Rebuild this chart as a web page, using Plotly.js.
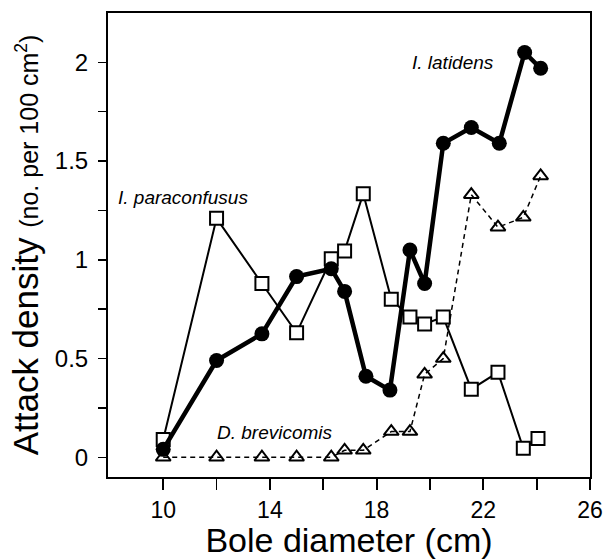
<!DOCTYPE html>
<html>
<head>
<meta charset="utf-8">
<script src="https://cdn.plot.ly/plotly-3.0.1.min.js"></script>
<style>html,body{margin:0;padding:0;background:#fff;}#chart{width:605px;height:559px;}</style>
</head>
<body>
<div id="chart"></div>
<script>
// I. latidens (filled circles)
var latidensX = [10, 12, 13.7, 15, 16.3, 16.8, 17.6, 18.5, 19.25, 19.8, 20.5, 21.55, 22.6, 23.55, 24.15];
var latidensY = [0.04, 0.49, 0.625, 0.915, 0.955, 0.84, 0.41, 0.34, 1.05, 0.88, 1.59, 1.67, 1.59, 2.05, 1.97];
// I. paraconfusus (open squares)
var paraX = [10, 12, 13.7, 15, 16.3, 16.8, 17.5, 18.55, 19.25, 19.8, 20.5, 21.55, 22.55, 23.5, 24.05];
var paraY = [0.09, 1.21, 0.88, 0.63, 1.005, 1.045, 1.335, 0.8, 0.71, 0.675, 0.71, 0.345, 0.43, 0.045, 0.095];
// D. brevicomis (open triangles)
var brevX = [10, 12, 13.7, 15, 16.3, 16.8, 17.5, 18.55, 19.25, 19.8, 20.5, 21.55, 22.55, 23.5, 24.15];
var brevY = [0, 0, 0, 0, 0, 0.035, 0.035, 0.13, 0.13, 0.42, 0.5, 1.33, 1.165, 1.215, 1.425];

var xTickVals = [10, 14, 18, 22, 26];
var yTickVals = [0, 0.5, 1, 1.5, 2];
var yTickText = ['0', '0.5', '1', '1.5', '2'];

var labels = [
  {text: 'I. paraconfusus', x: 10.74, y: 1.315},
  {text: 'I. latidens', x: 20.87, y: 2.0},
  {text: 'D. brevicomis', x: 14.2, y: 0.123}
];

var FONT = '"Liberation Sans", Arial, Helvetica, sans-serif';

var traces = [
  {x: brevX, y: brevY, type: 'scatter', mode: 'lines+markers',
   line: {color: '#000', width: 1.5, dash: '5px,4px'},
   marker: {symbol: 'triangle-up-open', size: 13, color: '#000', line: {width: 2, color: '#000'}}},
  {x: paraX, y: paraY, type: 'scatter', mode: 'lines+markers',
   line: {color: '#000', width: 2},
   marker: {symbol: 'square', size: 13, color: '#fff', line: {width: 2, color: '#000'}}},
  {x: latidensX, y: latidensY, type: 'scatter', mode: 'lines+markers',
   line: {color: '#000', width: 4.5},
   marker: {symbol: 'circle', size: 15, color: '#000'}}
];

var layout = {
  width: 605, height: 559,
  margin: {l: 108, r: 15, t: 13, b: 82},
  showlegend: false,
  paper_bgcolor: '#fff', plot_bgcolor: '#fff',
  font: {family: FONT, color: '#000'},
  xaxis: {
    range: [7.93, 26], tickvals: xTickVals, ticks: 'outside', ticklen: 11, tickwidth: 1.8,
    tickcolor: '#000', showline: true, linecolor: '#000', linewidth: 2, mirror: true,
    showgrid: false, zeroline: false, tickfont: {size: 23, family: FONT},
    minor: {tickvals: [12, 16, 20, 24], ticks: 'outside', ticklen: 11, tickwidth: 1.8, tickcolor: '#000'},
    title: {text: 'Bole diameter (cm)', font: {size: 34, family: FONT}, standoff: 6}
  },
  yaxis: {
    range: [-0.1, 2.25], tickvals: yTickVals, ticktext: yTickText, ticks: 'outside', ticklen: 8, tickwidth: 1.5,
    tickcolor: '#000', showline: true, linecolor: '#000', linewidth: 2, mirror: true,
    showgrid: false, zeroline: false, tickfont: {size: 24, family: FONT}, ticklabelstandoff: 5,
    minor: {tickvals: [0.25, 0.75, 1.25, 1.75], ticks: 'outside', ticklen: 8, tickwidth: 1.5, tickcolor: '#000'},
    title: {text: 'Attack density <span style="font-size:25px">(no. per 100 cm<sup>2</sup>)</span>', font: {size: 35, family: FONT}, standoff: 6}
  },
  annotations: labels.map(function (l) {
    return {text: '<i>' + l.text + '</i>', x: l.x, y: l.y, xref: 'x', yref: 'y', showarrow: false,
      font: {size: 19, family: FONT, color: '#000'}};
  })
};

Plotly.newPlot('chart', traces, layout, {displayModeBar: false, staticPlot: true});
</script>
</body>
</html>
